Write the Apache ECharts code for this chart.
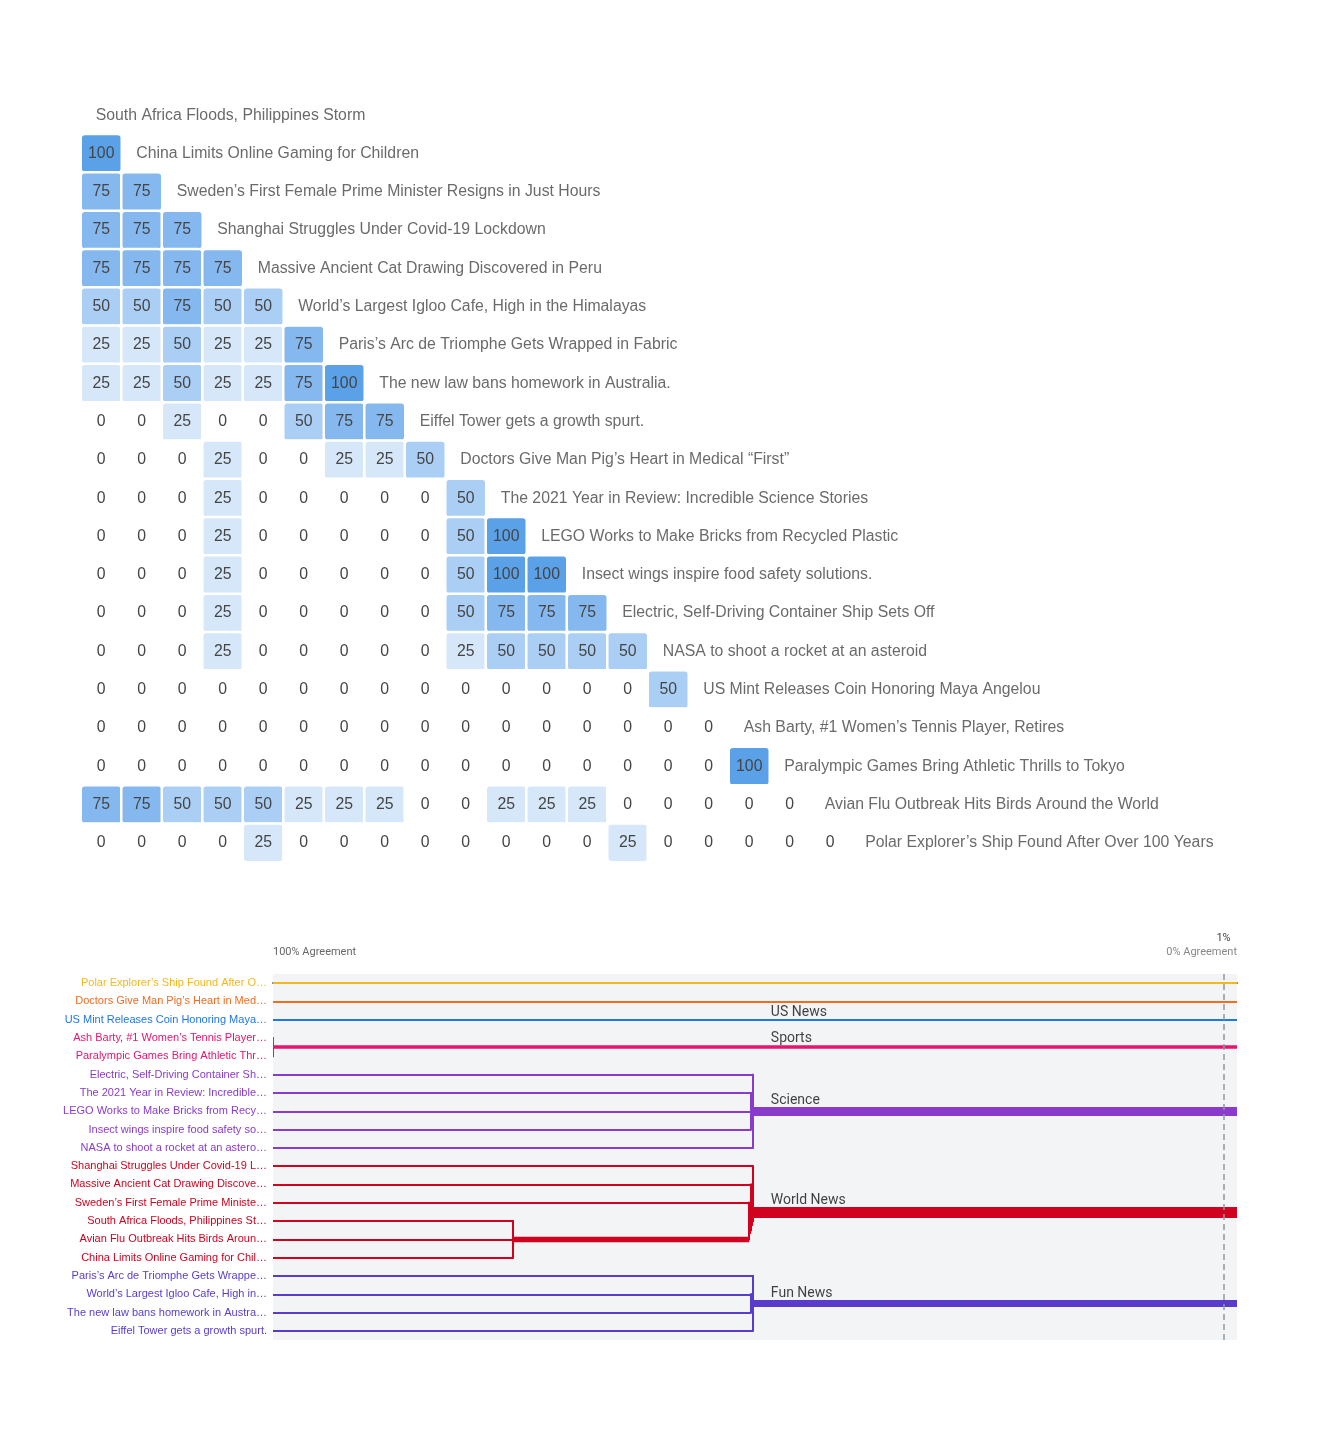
<!DOCTYPE html>
<html><head><meta charset="utf-8">
<script src="https://cdn.jsdelivr.net/npm/echarts@6/dist/echarts.min.js"></script>
<style>html,body{margin:0;padding:0;background:#fff}#c{width:1326px;height:1448px}</style>
</head><body><div id="c"></div>
<script>
// ---------- DATA ----------
const stories = [
  'South Africa Floods, Philippines Storm',
  'China Limits Online Gaming for Children',
  'Sweden\u2019s First Female Prime Minister Resigns in Just Hours',
  'Shanghai Struggles Under Covid-19 Lockdown',
  'Massive Ancient Cat Drawing Discovered in Peru',
  'World\u2019s Largest Igloo Cafe, High in the Himalayas',
  'Paris\u2019s Arc de Triomphe Gets Wrapped in Fabric',
  'The new law bans homework in Australia.',
  'Eiffel Tower gets a growth spurt.',
  'Doctors Give Man Pig\u2019s Heart in Medical \u201cFirst\u201d',
  'The 2021 Year in Review: Incredible Science Stories',
  'LEGO Works to Make Bricks from Recycled Plastic',
  'Insect wings inspire food safety solutions.',
  'Electric, Self-Driving Container Ship Sets Off',
  'NASA to shoot a rocket at an asteroid',
  'US Mint Releases Coin Honoring Maya Angelou',
  'Ash Barty, #1 Women\u2019s Tennis Player, Retires',
  'Paralympic Games Bring Athletic Thrills to Tokyo',
  'Avian Flu Outbreak Hits Birds Around the World',
  'Polar Explorer\u2019s Ship Found After Over 100 Years'
];
// agreement matrix (lower triangle, row i vs columns 0..i-1)
const agreement = [
  [],
  [100],
  [75,75],
  [75,75,75],
  [75,75,75,75],
  [50,50,75,50,50],
  [25,25,50,25,25,75],
  [25,25,50,25,25,75,100],
  [0,0,25,0,0,50,75,75],
  [0,0,0,25,0,0,25,25,50],
  [0,0,0,25,0,0,0,0,0,50],
  [0,0,0,25,0,0,0,0,0,50,100],
  [0,0,0,25,0,0,0,0,0,50,100,100],
  [0,0,0,25,0,0,0,0,0,50,75,75,75],
  [0,0,0,25,0,0,0,0,0,25,50,50,50,50],
  [0,0,0,0,0,0,0,0,0,0,0,0,0,0,50],
  [0,0,0,0,0,0,0,0,0,0,0,0,0,0,0,0],
  [0,0,0,0,0,0,0,0,0,0,0,0,0,0,0,0,100],
  [75,75,50,50,50,25,25,25,0,0,25,25,25,0,0,0,0,0],
  [0,0,0,0,25,0,0,0,0,0,0,0,0,25,0,0,0,0,0]
];
const levelValues = [0, 25, 50, 75, 100];
const levelColors = ['#ffffff', '#d6e7f9', '#abcff4', '#85b8ee', '#5aa1e7'];

// dendrogram leaf order (indices into stories)
const dendroOrder = [19, 9, 15, 16, 17, 13, 10, 11, 12, 14, 3, 4, 2, 0, 18, 1, 6, 5, 7, 8];
// clusters: trees reference positions in dendroOrder; numbers in 'level' are % agreement
const clusterNames  = ['', '', 'US News', 'Sports', 'Science', 'World News', 'Fun News'];
const clusterColors = ['#f4b81c', '#f46c20', '#1f77e8', '#e8146f', '#8a3bcc', '#d0021f', '#5a3ccc'];
const clusterTrees  = [
  0,
  1,
  2,
  {level: 100, children: [3, 4]},
  {level: 50, children: [5, {level: 50.2, children: [6, 7, 8]}, 9]},
  {level: 50, children: [10, {level: 50.2, children: [11, {level: 50.4, children: [12, {level: 75, children: [13, 14, 15]}]}]}]},
  {level: 50, children: [16, {level: 50.2, children: [17, 18]}, 19]}
];
const axisLabels = ['100% Agreement', '0% Agreement', '1%'];
const thresholdLevel = 1;
const AXIS_END = -0.4;
const LEAF_CHARS = 35;

// ---------- BUILD ----------
const heatData = [];
agreement.forEach((row, i) => row.forEach((v, j) => heatData.push([j, i, v])));
const diagLabels = stories.map((s, i) => ({value: [i, i], name: s}));

const leafColor = new Array(dendroOrder.length);
const segs = [];
const clusterLabelPts = [];
function widthFor(n) { return n === 1 ? 2 : 1.8 * n; }
function lay(node, color) {
  if (typeof node === 'number') { leafColor[node] = color; return {x: 100, y: node, size: 1}; }
  const kids = node.children.map(c => lay(c, color));
  let size = 0, ys = 0;
  kids.forEach(k => { size += k.size; ys += k.y * k.size; });
  kids.forEach(k => {
    if (k.x !== node.level) segs.push({coords: [[k.x, k.y], [node.level, k.y]], lineStyle: {color, width: widthFor(k.size)}});
  });
  const yMin = Math.min(...kids.map(k => k.y)), yMax = Math.max(...kids.map(k => k.y));
  segs.push({coords: [[node.level, yMin], [node.level, yMax]], lineStyle: {color, width: 2, cap: 'square'}});
  return {x: node.level, y: ys / size, size};
}
clusterTrees.forEach((t, ci) => {
  const color = clusterColors[ci];
  const r = lay(t, color);
  const w = widthFor(r.size);
  segs.push({coords: [[r.x, r.y], [AXIS_END, r.y]], lineStyle: {color, width: w}});
  if (clusterNames[ci]) clusterLabelPts.push({value: [48.2, r.y], name: clusterNames[ci], label: {offset: [0, -(6.5 + w / 2)]}});
});

const chart = echarts.init(document.getElementById('c'), null, {renderer: 'canvas'});
const idx = stories.map((_, i) => String(i));
const option = {
  backgroundColor: '#ffffff',
  animation: false,
  textStyle: {fontFamily: 'Roboto, Arial, sans-serif'},
  grid: [
    {left: 81, top: 96, width: 810, height: 766},
    {left: 273, top: 974, width: 964, height: 366, show: true, backgroundColor: '#f3f4f6', borderWidth: 0}
  ],
  xAxis: [
    {type: 'category', data: idx, gridIndex: 0, show: false},
    {type: 'value', gridIndex: 1, min: AXIS_END, max: 100, inverse: true, position: 'top', offset: 8,
     axisLine: {show: true, lineStyle: {color: '#5f6770', width: 2}}, axisTick: {show: false},
     axisLabel: {show: false}, splitLine: {show: false}}
  ],
  yAxis: [
    {type: 'category', data: idx, gridIndex: 0, inverse: true, show: false},
    {type: 'category', gridIndex: 1, inverse: true, data: dendroOrder.map(k => stories[k]),
     axisLine: {show: false}, axisTick: {show: false}, splitLine: {show: false},
     axisLabel: {fontSize: 11, fontFamily: 'Arial, Liberation Sans, sans-serif', margin: 6,
                 formatter: v => v.length > LEAF_CHARS ? v.slice(0, LEAF_CHARS) + '\u2026' : v,
                 color: (v, i) => leafColor[i]}},
    {type: 'value', gridIndex: 1, min: -0.5, max: 19.5, inverse: true, show: false}
  ],
  visualMap: {
    type: 'piecewise', show: false, seriesIndex: 0, dimension: 2,
    pieces: levelValues.map((v, i) => ({value: v, color: levelColors[i]}))
  },
  series: [
    {type: 'heatmap', xAxisIndex: 0, yAxisIndex: 0, data: heatData,
     itemStyle: {borderColor: '#ffffff', borderWidth: 2.5, borderRadius: 4},
     label: {show: true, color: '#454545', fontSize: 15.8, fontFamily: 'Arial, Liberation Sans, sans-serif'},
     emphasis: {disabled: true}},
    {type: 'scatter', xAxisIndex: 0, yAxisIndex: 0, data: diagLabels, symbolSize: 1, itemStyle: {color: 'rgba(0,0,0,0)'},
     label: {show: true, position: 'right', distance: -6, formatter: '{b}', color: '#454545', fontSize: 15.8,
             fontFamily: 'Arial, Liberation Sans, sans-serif'},
     emphasis: {disabled: true}, silent: true},
    {type: 'lines', coordinateSystem: 'cartesian2d', xAxisIndex: 1, yAxisIndex: 2, polyline: false,
     data: segs, lineStyle: {opacity: 1}, z: 3, silent: true},
    {type: 'scatter', xAxisIndex: 1, yAxisIndex: 2, data: clusterLabelPts, symbolSize: 1, itemStyle: {color: 'rgba(0,0,0,0)'}, z: 5,
     label: {show: true, position: 'right', distance: 0, formatter: '{b}', color: '#111', fontSize: 14,
             fontFamily: 'Roboto, Arial, sans-serif'},
     markLine: {silent: true, symbol: 'none', label: {show: false},
                lineStyle: {type: [6, 4], color: '#8e99a4', width: 1.5}, data: [{xAxis: thresholdLevel}]},
     emphasis: {disabled: true}, silent: true}
  ]
};
chart.setOption(option);

// axis annotations placed through the axis scale
const xLeft = chart.convertToPixel({xAxisIndex: 1}, 100);
const xRight = chart.convertToPixel({xAxisIndex: 1}, AXIS_END);
const xThr = chart.convertToPixel({xAxisIndex: 1}, thresholdLevel);
const yTop = chart.convertToPixel({yAxisIndex: 2}, -0.5) - 8;
chart.setOption({graphic: [
  {type: 'text', x: xLeft, y: yTop - 8, style: {text: axisLabels[0], fill: '#666', font: '11px Roboto, Arial, sans-serif', textAlign: 'left', textVerticalAlign: 'bottom'}},
  {type: 'text', x: xRight, y: yTop - 8, style: {text: axisLabels[1], fill: '#888', font: '11px Roboto, Arial, sans-serif', textAlign: 'right', textVerticalAlign: 'bottom'}},
  {type: 'text', x: xThr, y: yTop - 22, style: {text: axisLabels[2], fill: '#444', font: '11px Roboto, Arial, sans-serif', textAlign: 'center', textVerticalAlign: 'bottom'}}
]});
</script>
</body></html>
